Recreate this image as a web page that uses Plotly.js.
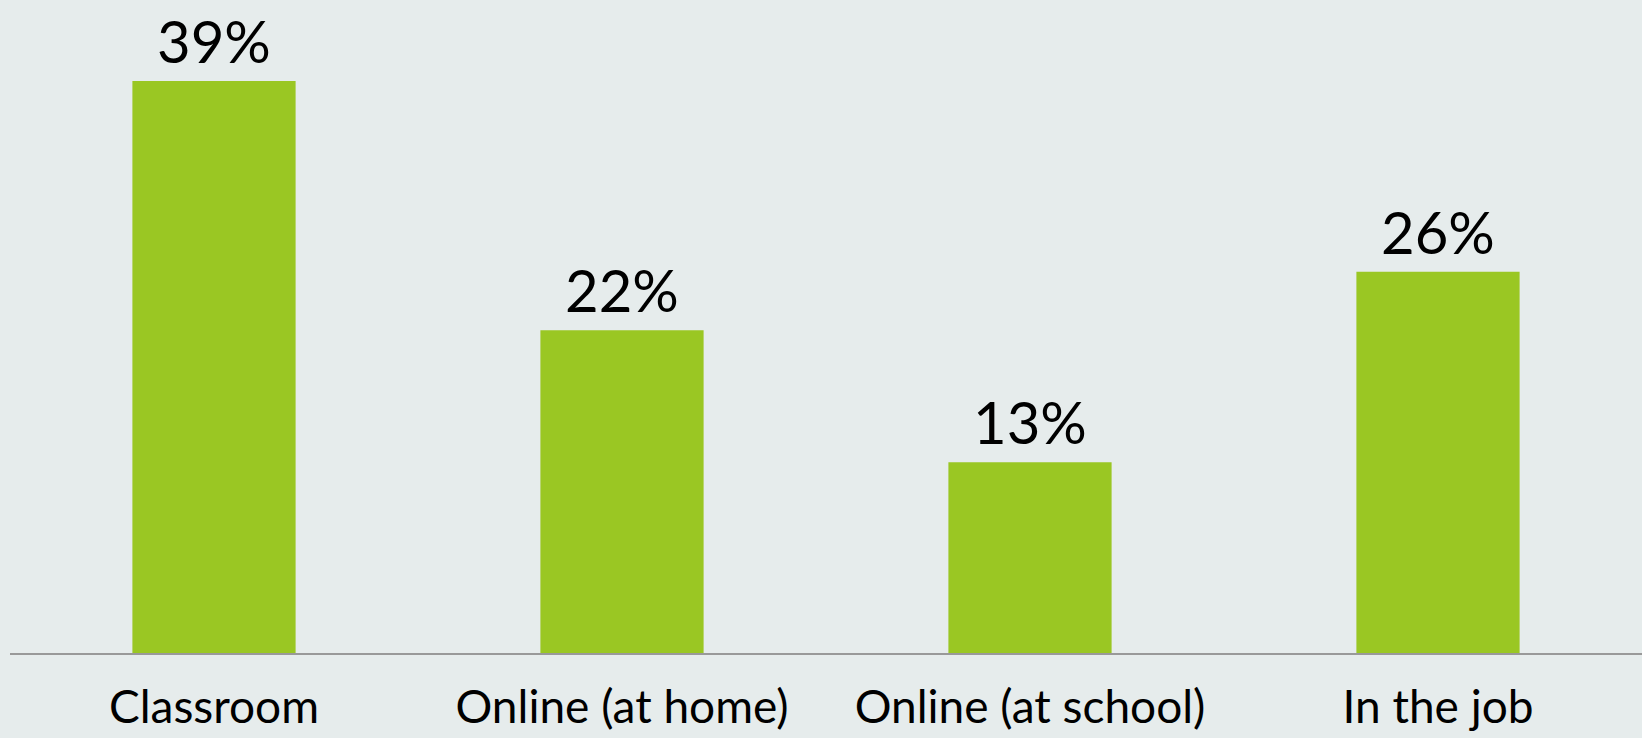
<!DOCTYPE html>
<html><head><meta charset="utf-8">
<script src="https://cdn.plot.ly/plotly-3.0.1.min.js"></script>
<style>html,body{margin:0;padding:0;background:#E6ECEC;}#chart{width:1642px;height:738px;}</style>
</head><body><div id="chart"></div>
<script>
const categories = ["Classroom", "Online (at home)", "Online (at school)", "In the job"];
const values = [39, 22, 13, 26];
const labels = ["39%", "22%", "13%", "26%"];

const trace = {
  type: "bar",
  x: categories,
  y: values,
  marker: {color: "#9AC723"},
  hoverinfo: "none"
};
const annotations = categories.map((c, i) => ({
  x: c, y: values[i], text: labels[i], showarrow: false,
  xanchor: "center", yanchor: "bottom", yshift: 5, borderpad: 0,
  font: {family: "Lato, 'Open Sans', sans-serif", size: 58, color: "#000"}
}));
const layout = {
  width: 1642, height: 738,
  margin: {l: 10, r: 0, t: 0, b: 85},
  paper_bgcolor: "#E6ECEC", plot_bgcolor: "#E6ECEC",
  bargap: 0.6,
  showlegend: false,
  xaxis: {
    showline: true, linecolor: "#999999", linewidth: 2,
    ticks: "", showgrid: false, zeroline: false,
    tickfont: {family: "Lato, 'Open Sans', sans-serif", size: 46, color: "#000"},
    ticklabelstandoff: 13
  },
  yaxis: {
    range: [0, 44.52], visible: false, showgrid: false, zeroline: false
  },
  annotations: annotations
};
Plotly.newPlot("chart", [trace], layout, {displayModeBar: false, staticPlot: true});
</script></body></html>
